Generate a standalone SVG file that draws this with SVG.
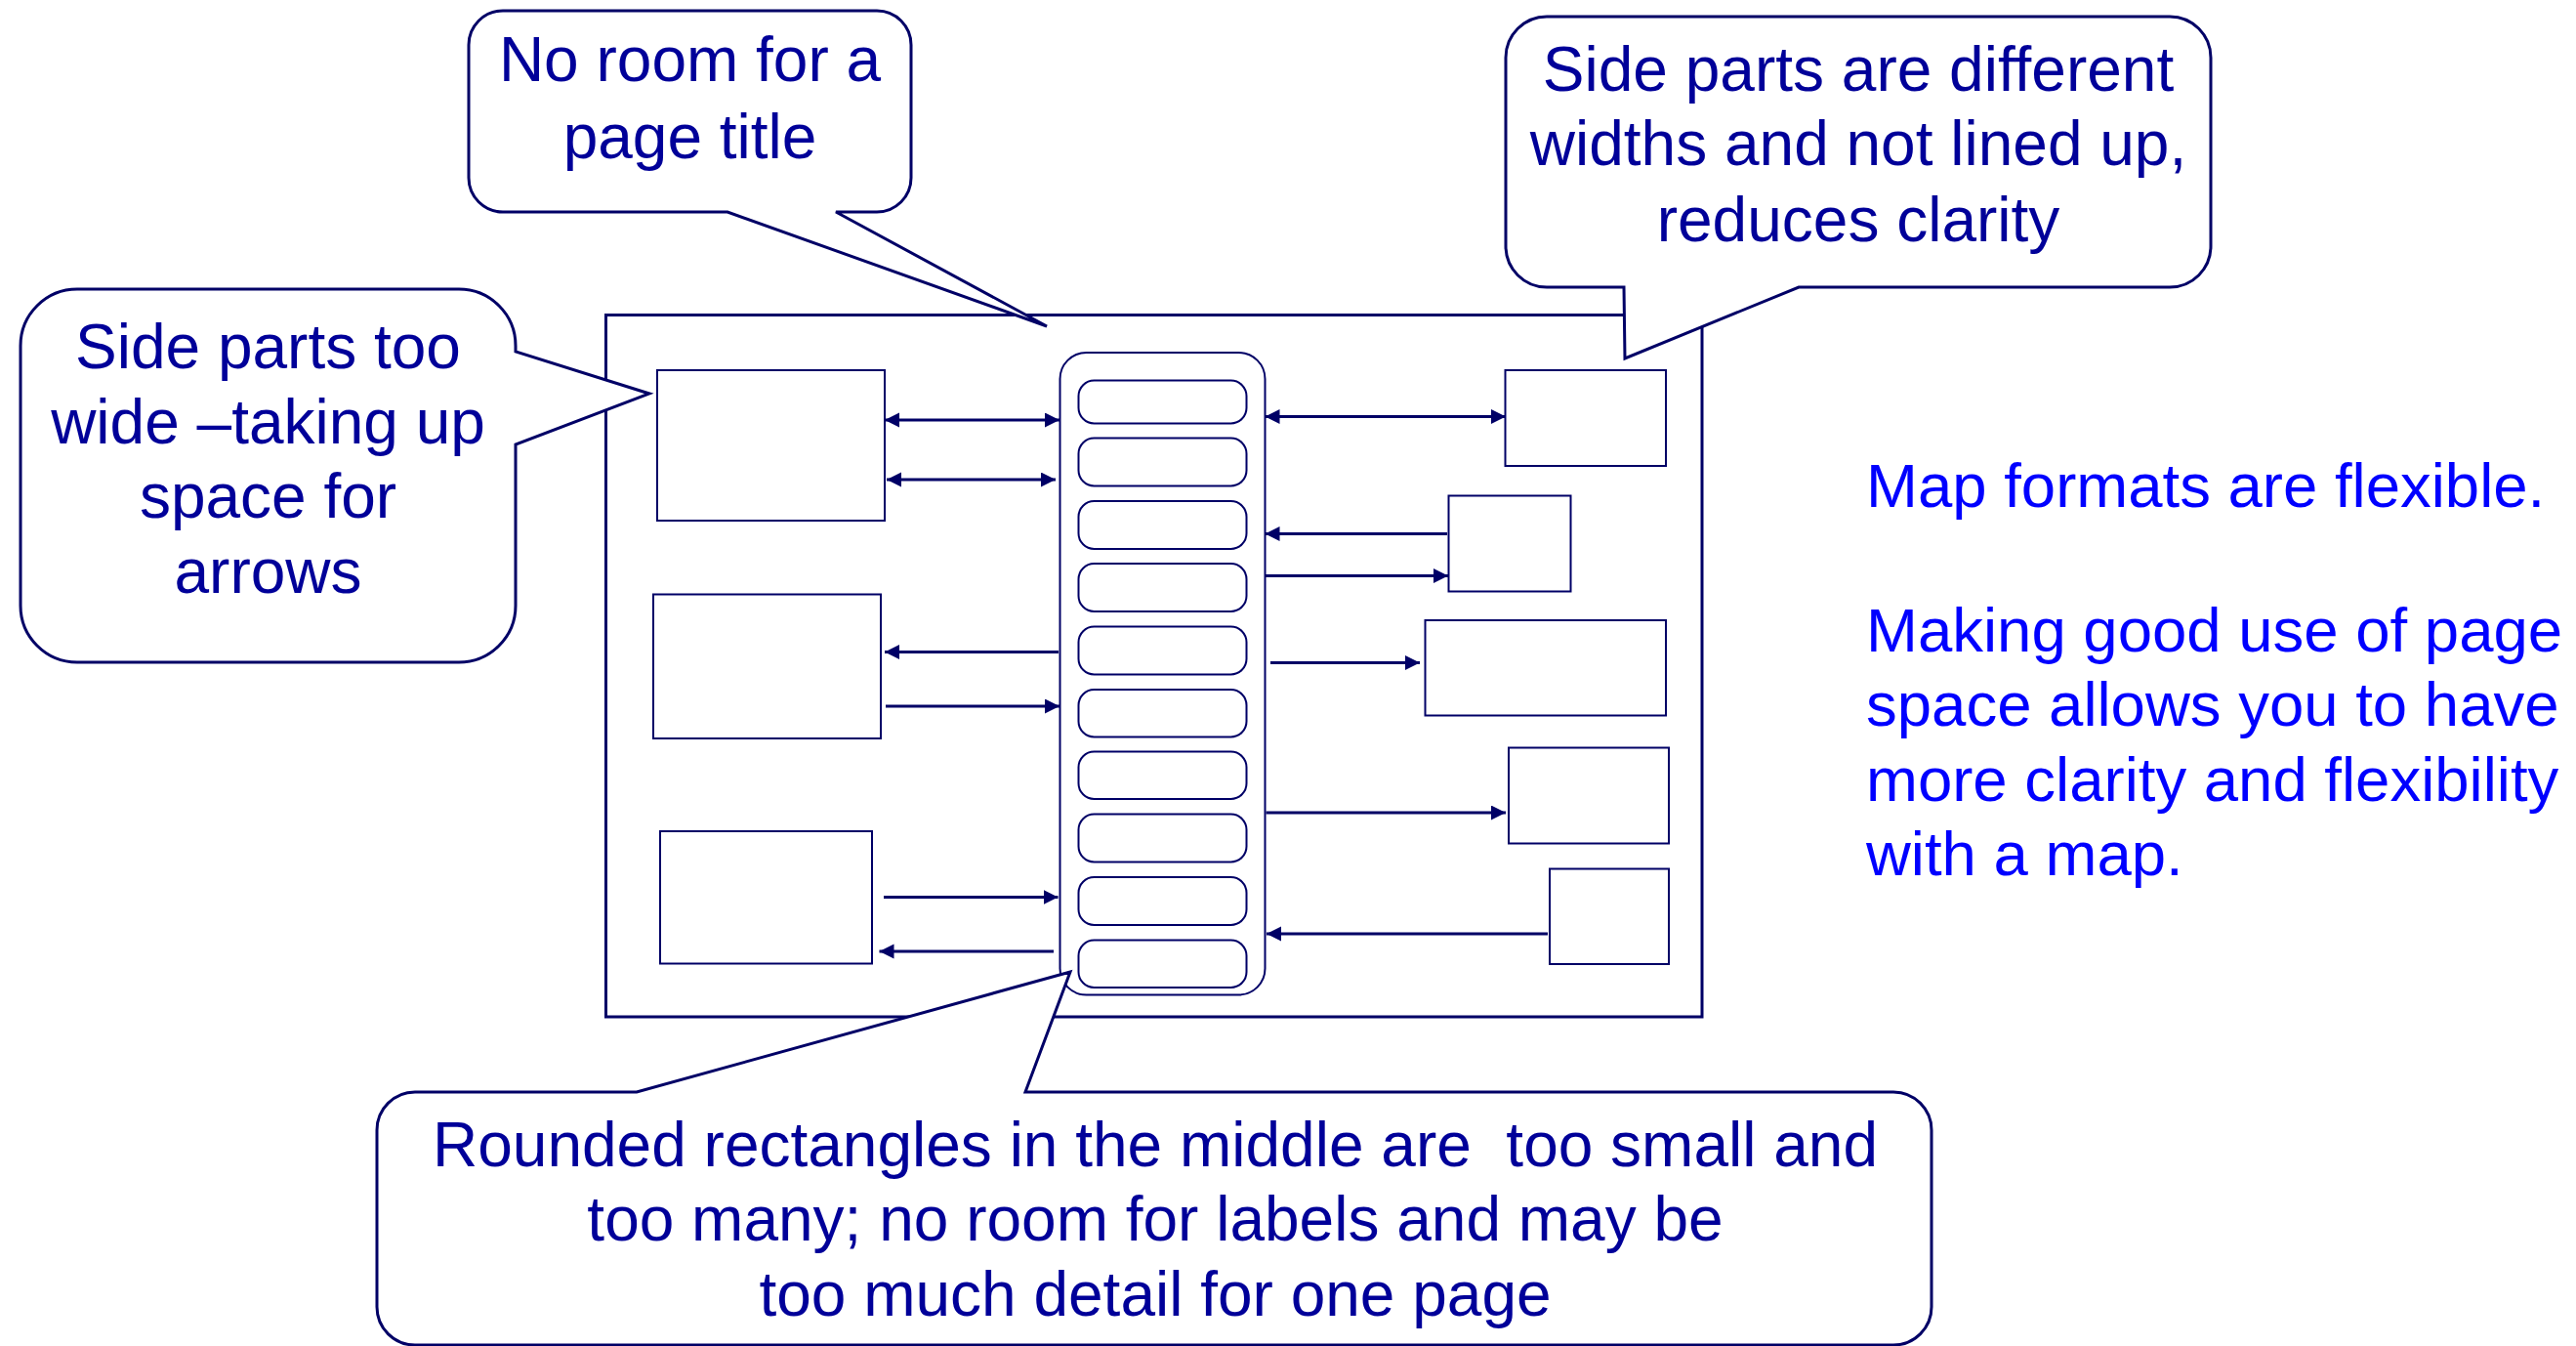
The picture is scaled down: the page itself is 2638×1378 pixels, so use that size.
<svg xmlns="http://www.w3.org/2000/svg" width="2638" height="1378" viewBox="0 0 2638 1378">
<defs>
<style>
.frame{fill:#fff;stroke:#000066;stroke-width:3}
.box{fill:#fff;stroke:#000066;stroke-width:2}
.cont{fill:#fff;stroke:#000066;stroke-width:2}
.item{fill:#fff;stroke:#000066;stroke-width:2}
.conn line{stroke:#000066;stroke-width:3;fill:none}
.callout{fill:#fff;stroke:#000066;stroke-width:3;stroke-linejoin:miter}
.ct{font-family:"Liberation Sans",Arial,sans-serif;font-size:64px;fill:#000099;text-anchor:middle;white-space:pre}
.note{font-family:"Liberation Sans",Arial,sans-serif;font-size:63.5px;fill:#0000FF}
</style>
<marker id="ah" markerUnits="userSpaceOnUse" markerWidth="16" markerHeight="16" refX="15" refY="7.5" orient="auto-start-reverse" viewBox="0 0 16 16">
<path d="M0,0 L15,7.5 L0,15 Z" fill="#000066"/>
</marker>
</defs>
<rect width="2638" height="1378" fill="#fff"/>

<g id="page-frame"><rect class="frame" x="620.5" y="322.5" width="1122.5" height="718.5"/></g>

<g id="left-box-1"><rect class="box" x="673" y="379" width="233" height="154"/></g>
<g id="left-box-2"><rect class="box" x="669" y="608.5" width="233" height="147.5"/></g>
<g id="left-box-3"><rect class="box" x="676" y="851" width="217" height="135.5"/></g>

<g id="right-box-1"><rect class="box" x="1541.5" y="379" width="164.5" height="98"/></g>
<g id="right-box-2"><rect class="box" x="1483.5" y="507.5" width="125" height="98"/></g>
<g id="right-box-3"><rect class="box" x="1459.5" y="635" width="246.5" height="97.5"/></g>
<g id="right-box-4"><rect class="box" x="1545" y="765.5" width="164" height="98"/></g>
<g id="right-box-5"><rect class="box" x="1587" y="889.5" width="122" height="97.5"/></g>

<g id="middle-column">
<rect class="cont" x="1085.5" y="361" width="210" height="657.5" rx="27" ry="27"/>
<rect class="item" x="1104.5" y="389.5" width="172" height="44" rx="16" ry="16"/>
<rect class="item" x="1104.5" y="448.5" width="172" height="49" rx="16" ry="16"/>
<rect class="item" x="1104.5" y="513" width="172" height="49" rx="16" ry="16"/>
<rect class="item" x="1104.5" y="577" width="172" height="49" rx="16" ry="16"/>
<rect class="item" x="1104.5" y="641.5" width="172" height="49" rx="16" ry="16"/>
<rect class="item" x="1104.5" y="706" width="172" height="48.5" rx="16" ry="16"/>
<rect class="item" x="1104.5" y="769.5" width="172" height="48.5" rx="16" ry="16"/>
<rect class="item" x="1104.5" y="833.5" width="172" height="49" rx="16" ry="16"/>
<rect class="item" x="1104.5" y="898" width="172" height="49" rx="16" ry="16"/>
<rect class="item" x="1104.5" y="962.5" width="172" height="48.5" rx="16" ry="16"/>
</g>

<g id="connectors" class="conn">
<line x1="906" y1="430" x2="1085" y2="430" marker-start="url(#ah)" marker-end="url(#ah)"/>
<line x1="908" y1="491" x2="1081" y2="491" marker-start="url(#ah)" marker-end="url(#ah)"/>
<line x1="1084" y1="667.5" x2="906" y2="667.5" marker-end="url(#ah)"/>
<line x1="907" y1="723" x2="1085" y2="723" marker-end="url(#ah)"/>
<line x1="905" y1="918.5" x2="1083.5" y2="918.5" marker-end="url(#ah)"/>
<line x1="1079" y1="974" x2="900.5" y2="974" marker-end="url(#ah)"/>
<line x1="1295.5" y1="426.5" x2="1542" y2="426.5" marker-start="url(#ah)" marker-end="url(#ah)"/>
<line x1="1482" y1="546.5" x2="1295.5" y2="546.5" marker-end="url(#ah)"/>
<line x1="1295.5" y1="589.5" x2="1483" y2="589.5" marker-end="url(#ah)"/>
<line x1="1301" y1="678.5" x2="1454" y2="678.5" marker-end="url(#ah)"/>
<line x1="1296.5" y1="832" x2="1542" y2="832" marker-end="url(#ah)"/>
<line x1="1585" y1="956" x2="1297" y2="956" marker-end="url(#ah)"/>
</g>

<g id="callout-title">
<path class="callout" d="M515,11 H898 A35,35 0 0 1 933,46 V182 A35,35 0 0 1 898,217 H856 L1072,334 L745,217 H515 A35,35 0 0 1 480,182 V46 A35,35 0 0 1 515,11 Z"/>
<text class="ct" x="706.5" y="83">No room for a</text>
<text class="ct" x="706.5" y="162">page title</text>
</g>

<g id="callout-widths">
<path class="callout" d="M1584,17 H2222 A42,42 0 0 1 2264,59 V252 A42,42 0 0 1 2222,294 H1842 L1664,367 L1663,294 H1584 A42,42 0 0 1 1542,252 V59 A42,42 0 0 1 1584,17 Z"/>
<text class="ct" x="1903" y="92.5">Side parts are different</text>
<text class="ct" x="1903" y="169">widths and not lined up,</text>
<text class="ct" x="1903" y="246.5">reduces clarity</text>
</g>

<g id="callout-wide">
<path class="callout" d="M79,296 H470 A58,58 0 0 1 528,354 V360 L665,403 L528,455 V620 A58,58 0 0 1 470,678 H79 A58,58 0 0 1 21,620 V354 A58,58 0 0 1 79,296 Z"/>
<text class="ct" x="274.5" y="376.5">Side parts too</text>
<text class="ct" x="274.5" y="453.5">wide –taking up</text>
<text class="ct" x="274.5" y="530">space for</text>
<text class="ct" x="274.5" y="607">arrows</text>
</g>

<g id="callout-middle">
<path class="callout" d="M425,1118 H652 L1096,995 L1050,1118 H1939 A39,39 0 0 1 1978,1157 V1338 A39,39 0 0 1 1939,1377 H425 A39,39 0 0 1 386,1338 V1157 A39,39 0 0 1 425,1118 Z"/>
<text class="ct" x="1183" y="1193.5">Rounded rectangles in the middle are  too small and</text>
<text class="ct" x="1183" y="1270">too many; no room for labels and may be</text>
<text class="ct" x="1183" y="1346.5">too much detail for one page</text>
</g>

<g id="side-note">
<text class="note" x="1911" y="519">Map formats are flexible.</text>
<text class="note" x="1911" y="666.5">Making good use of page</text>
<text class="note" x="1911" y="742.5">space allows you to have</text>
<text class="note" x="1911" y="819.5">more clarity and flexibility</text>
<text class="note" x="1911" y="896">with a map.</text>
</g>
</svg>
